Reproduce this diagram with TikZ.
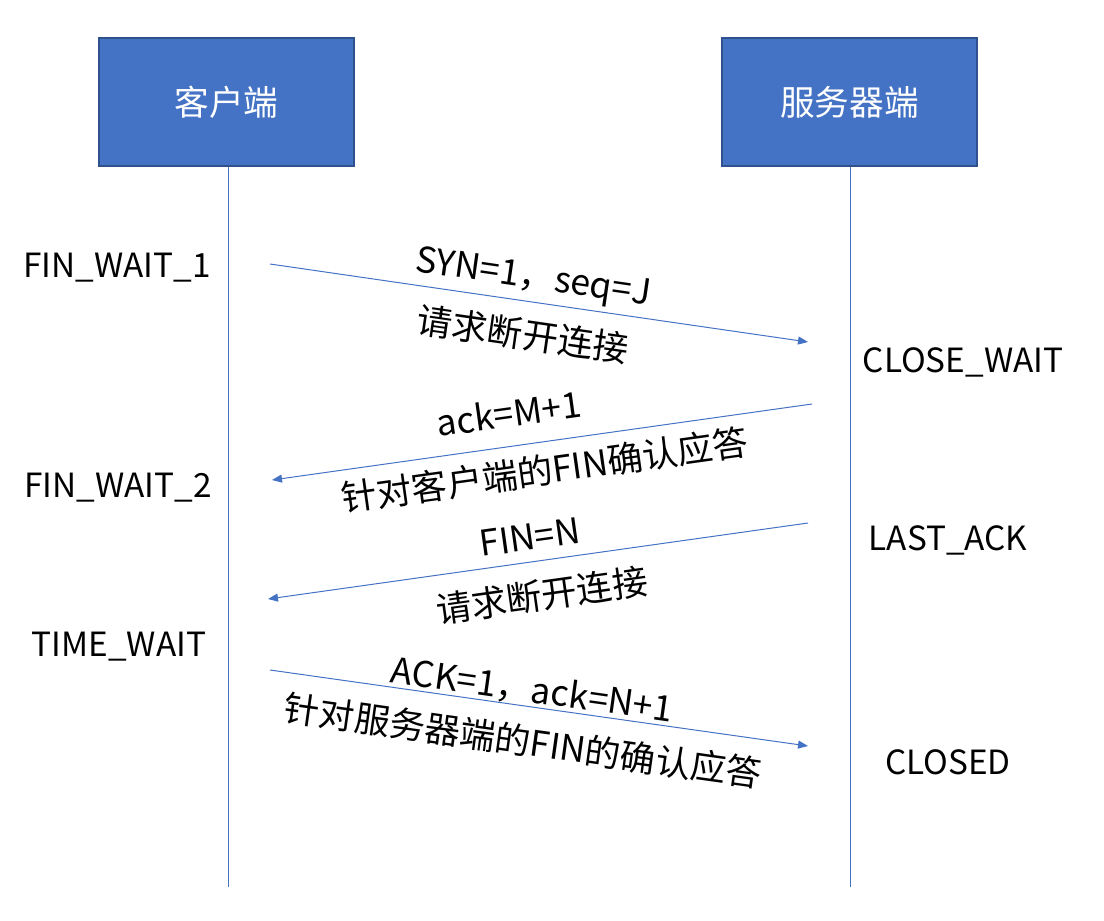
\documentclass[tikz,border=0pt]{standalone}
\usepackage{fontspec}
\setmainfont{Noto Sans CJK SC}
\usetikzlibrary{arrows.meta}
\definecolor{boxblue}{HTML}{4472C4}
\definecolor{boxedge}{HTML}{2F528F}
\begin{document}
\begin{tikzpicture}[x=0.75pt,y=-0.75pt,
  party/.style={draw=boxedge, line width=1.5pt, fill=boxblue, text=white,
    minimum width=191pt, minimum height=96pt, inner sep=0pt,
    font=\fontsize{26}{30}\selectfont},
  state/.style={font=\fontsize{25}{29}\selectfont, inner sep=0pt},
  lbl/.style={font=\fontsize{26.6}{30}\selectfont, inner sep=0pt},
  lifeline/.style={draw=boxblue, line width=0.75pt},
  msg/.style={draw=boxblue, line width=0.75pt, -{Triangle[length=7.5pt,width=6pt]}}]
\useasboundingbox (0,0) rectangle (1104,921);
% parties
\node[party] (cli) at (226.5,102) {客户端};
\node[party] (srv) at (849.5,102) {服务器端};
\coordinate (cliend) at (228,887);
\coordinate (srvend) at (850,887);
\draw[lifeline] (cli.south -| cliend) -- (cliend);
\draw[lifeline] (srv.south -| srvend) -- (srvend);
% states
\node[state] (s1) at (117,268) {FIN\_WAIT\_1};
\node[state] (s2) at (118,488) {FIN\_WAIT\_2};
\node[state] (s3) at (119,647) {TIME\_WAIT};
\node[state] (s4) at (963,362) {CLOSE\_WAIT};
\node[state] (s5) at (948,540) {LAST\_ACK};
\node[state] (s6) at (948,762) {CLOSED};
% message endpoints
\coordinate (m1a) at (270,264); \coordinate (m1b) at (808,342);
\coordinate (m2a) at (812,404); \coordinate (m2b) at (272,480);
\coordinate (m3a) at (808,523); \coordinate (m3b) at (268,599);
\coordinate (m4a) at (270,670); \coordinate (m4b) at (808,746);
\draw[msg] (m1a) -- (m1b);
\draw[msg] (m2a) -- (m2b);
\draw[msg] (m3a) -- (m3b);
\draw[msg] (m4a) -- (m4b);
% labels
\node[lbl, rotate=-8.25] (l1a) at (533,279) {SYN=1，seq=J};
\node[lbl, rotate=-8.25] (l1b) at (523,334) {请求断开连接};
\node[lbl, rotate=8] (l2a) at (509,413) {ack=M+1};
\node[lbl, rotate=8] (l2b) at (545,470) {针对客户端的FIN确认应答};
\node[lbl, rotate=8] (l3a) at (530,537) {FIN=N};
\node[lbl, rotate=8] (l3b) at (542,595) {请求断开连接};
\node[lbl, rotate=-8] (l4a) at (532,690) {ACK=1，ack=N+1};
\node[lbl, rotate=-8] (l4b) at (523,741) {针对服务器端的FIN的确认应答};
\end{tikzpicture}
\end{document}
